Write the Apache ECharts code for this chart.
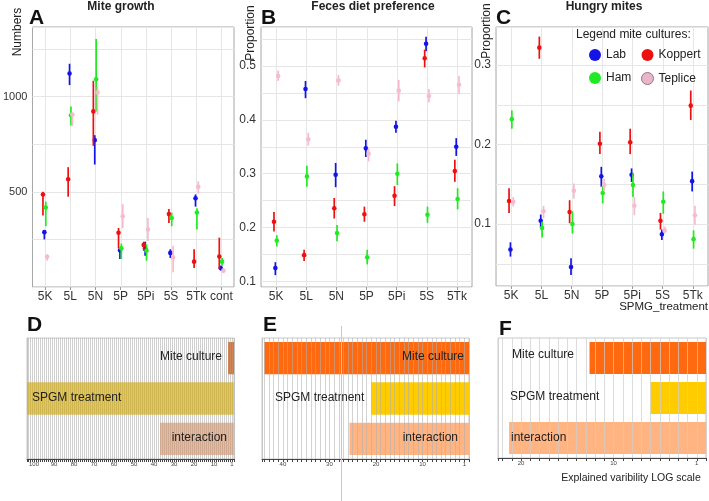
<!DOCTYPE html>
<html>
<head>
<meta charset="utf-8">
<title>Mite cultures</title>
<script src="https://cdn.jsdelivr.net/npm/echarts@6/dist/echarts.min.js"></script>
<style>body{margin:0;background:#fff;}</style>
</head>
<body>
<div id="main" style="width:709px;height:501px;"></div>
<script>
// categories
var treatA = ['5K', '5L', '5N', '5P', '5Pi', '5S', '5Tk', 'cont'];
var treatBC = ['5K', '5L', '5N', '5P', '5Pi', '5S', '5Tk'];
var factors = ['Mite culture', 'SPGM treatment', 'interaction'];

// A - mite growth, [mean, low, high] per treatment
var growthLab = [[288, 250, 297], [1121, 1060, 1172], [771, 643, 797], [193, 147, 207], [203, 164, 238], [179, 152, 198], [466, 422, 486], [100, 86, 112]];
var growthKoppert = [[486, 375, 500], [566, 474, 629], [922, 741, 1083], [285, 203, 310], [221, 190, 238], [383, 336, 410], [133, 100, 198], [160, 95, 259]];
var growthHam = [[417, 319, 448], [902, 848, 948], [1091, 922, 1302], [203, 147, 228], [190, 138, 224], [362, 319, 391], [391, 302, 414], [133, 112, 152]];
var growthTeplice = [[159, 138, 172], [905, 845, 914], [1021, 905, 1052], [371, 310, 435], [302, 241, 362], [155, 78, 216], [526, 491, 555], [86, 73, 95]];

// B - feces diet preference
var fecesLab = [[0.125, 0.112, 0.136], [0.457, 0.440, 0.472], [0.298, 0.275, 0.320], [0.347, 0.331, 0.363], [0.387, 0.376, 0.398], [0.541, 0.527, 0.554], [0.350, 0.333, 0.366]];
var fecesKoppert = [[0.211, 0.193, 0.229], [0.149, 0.138, 0.159], [0.236, 0.217, 0.255], [0.225, 0.211, 0.239], [0.259, 0.240, 0.277], [0.514, 0.497, 0.530], [0.305, 0.285, 0.326]];
var fecesHam = [[0.176, 0.165, 0.186], [0.295, 0.276, 0.315], [0.190, 0.175, 0.205], [0.145, 0.132, 0.159], [0.300, 0.279, 0.319], [0.224, 0.209, 0.239], [0.253, 0.234, 0.273]];
var fecesTeplice = [[0.481, 0.472, 0.491], [0.364, 0.352, 0.376], [0.473, 0.463, 0.483], [0.337, 0.323, 0.347], [0.454, 0.434, 0.474], [0.444, 0.432, 0.457], [0.465, 0.448, 0.481]];

// C - hungry mites
var hungryLab = [[0.068, 0.059, 0.077], [0.104, 0.095, 0.112], [0.046, 0.036, 0.057], [0.160, 0.147, 0.172], [0.162, 0.153, 0.170], [0.087, 0.080, 0.093], [0.154, 0.141, 0.166]];
var hungryKoppert = [[0.129, 0.114, 0.145], [0.322, 0.308, 0.336], [0.115, 0.101, 0.130], [0.201, 0.188, 0.216], [0.203, 0.188, 0.220], [0.104, 0.093, 0.114], [0.249, 0.231, 0.268]];
var hungryHam = [[0.232, 0.220, 0.243], [0.095, 0.083, 0.103], [0.100, 0.088, 0.116], [0.139, 0.126, 0.149], [0.149, 0.134, 0.164], [0.128, 0.113, 0.141], [0.081, 0.069, 0.092]];
var hungryTeplice = [[0.128, 0.122, 0.134], [0.116, 0.107, 0.123], [0.142, 0.132, 0.151], [0.149, 0.141, 0.157], [0.123, 0.111, 0.134], [0.092, 0.088, 0.097], [0.111, 0.099, 0.123]];

// D, E, F - explained variability
var varD = [3, 103.5, 37];
var varE = [44, 21, 25.7];
var varF = [12.6, 6.0, 21.3];

var colors = { Lab: '#1414e8', Koppert: '#ee1010', Ham: '#22ea22', Teplice: '#f7bccb' };
var shifts = { Koppert: -2.1, Lab: -0.7, Ham: 0.7, Teplice: 2.1 };
var factorColors = ['#ff6a10', '#ffcc00', '#ffb482'];
var font = '"Liberation Sans", Arial, sans-serif';

var myChart = echarts.init(document.getElementById('main'));

function errSeries(name, arr, gi) {
    var sh = shifts[name];
    return {
        type: 'custom', name: name, xAxisIndex: gi, yAxisIndex: gi, z: 3,
        itemStyle: { color: colors[name] },
        data: arr.map(function (d, i) { return [i, d[0], d[1], d[2]]; }),
        encode: { x: 0, y: [1, 2, 3] },
        renderItem: function (params, api) {
            var p = api.coord([api.value(0), api.value(1)]);
            var lo = api.coord([api.value(0), api.value(2)]);
            var hi = api.coord([api.value(0), api.value(3)]);
            var x = p[0] + sh;
            var c = api.visual('color');
            return { type: 'group', children: [
                { type: 'line', shape: { x1: x, y1: lo[1], x2: x, y2: hi[1] }, style: { stroke: c, lineWidth: 1.7 } },
                { type: 'circle', shape: { cx: x, cy: p[1], r: 2.3 }, style: { fill: c } }
            ] };
        }
    };
}

// vertical grid lines at category centres
function vGrid(cats, gi) {
    return {
        type: 'custom', xAxisIndex: gi, yAxisIndex: gi, silent: true, z: 1,
        data: cats.map(function (c, i) { return [i]; }),
        encode: { x: 0 },
        renderItem: function (params, api) {
            var cs = params.coordSys;
            var x = Math.round(api.coord([api.value(0), 0])[0]) + 0.5;
            return { type: 'line', shape: { x1: x, y1: cs.y, x2: x, y2: cs.y + cs.height }, style: { stroke: '#e6e6e6', lineWidth: 1 } };
        }
    };
}

function barSeries(vals, gi) {
    return {
        type: 'bar', xAxisIndex: gi, yAxisIndex: gi, barWidth: '80%', z: 2, silent: true,
        data: vals.map(function (v, i) { return { value: v, itemStyle: { color: factorColors[i] } }; })
    };
}

function tenthLabel(v) {
    var t = Math.round(v * 10);
    return (Math.abs(v * 10 - t) < 1e-6 && t >= 1) ? (t / 10).toFixed(1) : '';
}

function topX(cats, gi) {
    return {
        type: 'category', gridIndex: gi, data: cats, boundaryGap: true,
        axisLine: { show: false },
        axisTick: { show: true, alignWithLabel: true, length: 3, lineStyle: { color: '#999' } },
        axisLabel: { fontSize: 12, color: '#333', margin: 4, interval: 0, fontFamily: font },
        splitLine: { show: false }
    };
}

function topY(gi, min, max, fmt, fs, extra) {
    return Object.assign({
        type: 'value', gridIndex: gi, min: min, max: max,
        axisLine: { show: false }, axisTick: { show: false },
        splitLine: { show: true, lineStyle: { color: '#e6e6e6' } },
        axisLabel: { fontSize: fs, color: '#333', margin: 5, formatter: fmt, fontFamily: font }
    }, extra);
}

function botX(gi, max, gridColor) {
    return {
        type: 'value', gridIndex: gi, inverse: true, min: 0, max: max, interval: 1, z: 4,
        axisLine: { show: true, lineStyle: { color: '#444' } },
        axisTick: { show: true, length: 3, lineStyle: { color: '#444' } },
        axisLabel: { fontSize: 6, color: '#444', margin: 2, fontFamily: font,
            formatter: function (v) { return (v === 1 || (v > 0 && v % 10 === 0)) ? String(v) : ''; } },
        splitLine: { show: true, lineStyle: { color: gridColor, width: 1 } }
    };
}

function botY(gi) {
    return { type: 'category', gridIndex: gi, data: factors, inverse: true, show: false };
}

var gridBase = { show: true, backgroundColor: '#fff', borderWidth: 1 };
function g(l, t, w, h, bc) {
    return Object.assign({}, gridBase, { left: l, top: t, width: w, height: h, borderColor: bc });
}

function txt(x, y, s, size, opt) {
    opt = opt || {};
    return {
        type: 'text', x: x, y: y, rotation: opt.rot || 0, z: 100, silent: true,
        style: {
            text: s, fill: opt.color || '#222',
            font: (opt.bold ? 'bold ' : '') + size + 'px ' + font,
            textAlign: opt.align || 'left', textVerticalAlign: 'middle'
        }
    };
}

var series = [
    vGrid(treatA, 0), vGrid(treatBC, 1), vGrid(treatBC, 2),
    errSeries('Lab', growthLab, 0), errSeries('Koppert', growthKoppert, 0), errSeries('Ham', growthHam, 0), errSeries('Teplice', growthTeplice, 0),
    errSeries('Lab', fecesLab, 1), errSeries('Koppert', fecesKoppert, 1), errSeries('Ham', fecesHam, 1), errSeries('Teplice', fecesTeplice, 1),
    errSeries('Lab', hungryLab, 2), errSeries('Koppert', hungryKoppert, 2), errSeries('Ham', hungryHam, 2), errSeries('Teplice', hungryTeplice, 2),
    barSeries(varD, 3), barSeries(varE, 4), barSeries(varF, 5)
];

option = {
    animation: false,
    backgroundColor: '#fff',
    textStyle: { fontFamily: font },
    grid: [
        g(28, 27, 206, 260, '#a6a6a6'),
        g(261, 27, 211, 260, '#a6a6a6'),
        g(496, 27, 212, 259, '#a6a6a6'),
        g(27, 338, 207, 121, '#c8c8c8'),
        g(262, 338, 207, 121, '#c8c8c8'),
        g(498, 338, 208, 120, '#c8c8c8')
    ],
    xAxis: [
        topX(treatA, 0), topX(treatBC, 1), topX(treatBC, 2),
        botX(3, 103.5, 'rgba(160,160,160,0.5)'),
        botX(4, 44.5, 'rgba(175,175,175,0.55)'),
        botX(5, 22.5, 'rgba(205,205,205,0.7)')
    ],
    yAxis: [
        topY(0, 0, 1365, function (v) { return (v === 500 || v === 1000) ? String(v) : ''; }, 11, { interval: 250 }),
        topY(1, 0.09, 0.572, tenthLabel, 12, { splitNumber: 10, minInterval: 0.05, maxInterval: 0.05 }),
        topY(2, 0.022, 0.348, tenthLabel, 12, { splitNumber: 6, minInterval: 0.05, maxInterval: 0.05 }),
        botY(3), botY(4), botY(5)
    ],
    legend: [
        { data: ['Lab', 'Ham'], orient: 'vertical', left: 584, top: 44, icon: 'circle', itemWidth: 12, itemHeight: 12, itemGap: 11,
          selectedMode: false, textStyle: { fontSize: 12, color: '#222', fontFamily: font } },
        { data: ['Koppert', { name: 'Teplice', itemStyle: { color: '#e9b6c9', borderColor: '#9d7086', borderWidth: 1 } }],
          orient: 'vertical', left: 636, top: 44, icon: 'circle', itemWidth: 12, itemHeight: 12, itemGap: 11,
          selectedMode: false, textStyle: { fontSize: 12, color: '#222', fontFamily: font } }
    ],
    graphic: [
        txt(121, 7, 'Mite growth', 12, { bold: true, align: 'center' }),
        txt(373, 7, 'Feces diet preference', 12, { bold: true, align: 'center' }),
        txt(604, 7, 'Hungry mites', 12, { bold: true, align: 'center' }),
        txt(29, 18, 'A', 21, { bold: true, color: '#111' }),
        txt(261, 18, 'B', 21, { bold: true, color: '#111' }),
        txt(496, 18, 'C', 21, { bold: true, color: '#111' }),
        txt(27, 325, 'D', 21, { bold: true, color: '#111' }),
        txt(263, 325, 'E', 21, { bold: true, color: '#111' }),
        txt(499, 329, 'F', 21, { bold: true, color: '#111' }),
        txt(18, 32, 'Numbers', 12, { rot: Math.PI / 2, align: 'center' }),
        txt(251, 33, 'Proportion', 12, { rot: Math.PI / 2, align: 'center' }),
        txt(487, 31, 'Proportion', 12, { rot: Math.PI / 2, align: 'center' }),
        txt(576, 35, 'Legend mite cultures:', 12),
        txt(708, 307, 'SPMG_treatment', 11.5, { align: 'right' }),
        txt(631, 478, 'Explained varibility LOG scale', 10.5, { align: 'center' }),
        txt(222, 357, 'Mite culture', 12, { align: 'right' }),
        txt(32, 398, 'SPGM treatment', 12),
        txt(227, 438, 'interaction', 12, { align: 'right' }),
        txt(464, 357, 'Mite culture', 12, { align: 'right' }),
        txt(275, 398, 'SPGM treatment', 12),
        txt(458, 438, 'interaction', 12, { align: 'right' }),
        txt(512, 355, 'Mite culture', 12),
        txt(510, 397, 'SPGM treatment', 12),
        txt(511, 438, 'interaction', 12),
        { type: 'line', z: 100, silent: true, shape: { x1: 341.5, y1: 326, x2: 341.5, y2: 501 }, style: { stroke: '#c8c8c8', lineWidth: 1 } }
    ],
    series: series
};

myChart.setOption(option);
</script>
</body>
</html>
